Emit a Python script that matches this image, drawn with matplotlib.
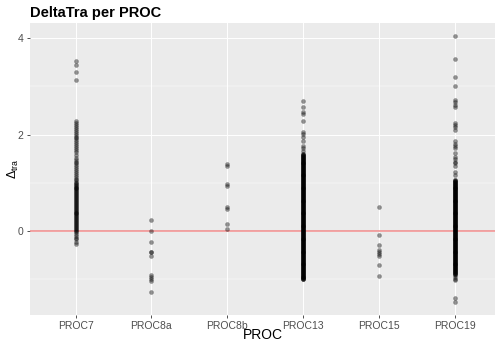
import matplotlib
matplotlib.use('Agg')
import matplotlib.pyplot as plt

plt.rcParams['font.family'] = ['Liberation Sans', 'DejaVu Sans']
plt.rcParams['mathtext.fontset'] = 'custom'
plt.rcParams['mathtext.rm'] = 'Liberation Sans'
plt.rcParams['mathtext.it'] = 'Liberation Sans'

# categories on the x axis
procs = ['PROC7', 'PROC8a', 'PROC8b', 'PROC13', 'PROC15', 'PROC19']

# delta_tra values per PROC
proc7 = [3.54, 3.45, 3.30, 3.14,
         2.28, 2.24, 2.20, 2.16, 2.12, 2.08, 2.04, 2.00, 1.96, 1.92, 1.88, 1.84,
         1.80, 1.76, 1.72, 1.68, 1.64, 1.58, 1.52, 1.48, 1.44, 1.40, 1.36, 1.32,
         1.28, 1.24, 1.20, 1.16, 1.12, 1.08, 1.05,
         1.02, 1.00, 0.98, 0.96, 0.94, 0.92, 0.90, 0.88, 0.86, 0.84, 0.82,
         0.80, 0.78, 0.76, 0.74, 0.72, 0.70, 0.68, 0.66, 0.64, 0.62,
         0.60, 0.58, 0.56, 0.54, 0.52, 0.50, 0.48, 0.46, 0.44, 0.42,
         0.40, 0.38, 0.36, 0.34, 0.32, 0.30, 0.28, 0.26, 0.24, 0.22,
         0.20, 0.18, 0.16, 0.14, 0.12, 0.10, 0.08, 0.06, 0.04, 0.02, 0.00,
         -0.02, -0.06, -0.10, -0.14, -0.18, -0.23, -0.27]
proc8a = [0.23, 0.00, -0.24, -0.43, -0.45, -0.53, -0.92, -0.97, -1.01, -1.05, -1.28]
proc8b = [1.38, 1.35, 0.97, 0.94, 0.49, 0.45, 0.15, 0.04]
proc13 = [2.69, 2.57, 2.48, 2.43, 2.29, 2.06, 2.01, 1.95, 1.86, 1.76, 1.72, 1.66,
          1.60, 1.59, 1.58, 1.57, 1.56, 1.55, 1.54, 1.53, 1.52, 1.51,
          1.50, 1.49, 1.48, 1.47, 1.46, 1.45, 1.44, 1.43, 1.42, 1.41,
          1.40, 1.39, 1.38, 1.37, 1.36, 1.35, 1.34, 1.33, 1.32, 1.31,
          1.30, 1.29, 1.28, 1.27, 1.26, 1.25, 1.24, 1.23, 1.22, 1.21,
          1.20, 1.19, 1.18, 1.17, 1.16, 1.15, 1.14, 1.13, 1.12, 1.11,
          1.10, 1.09, 1.08, 1.07, 1.06, 1.05, 1.04, 1.03, 1.02, 1.01,
          1.00, 0.99, 0.98, 0.97, 0.96, 0.95, 0.94, 0.93, 0.92, 0.91,
          0.90, 0.89, 0.88, 0.87, 0.86, 0.85, 0.84, 0.83, 0.82, 0.81,
          0.80, 0.79, 0.78, 0.77, 0.76, 0.75, 0.74, 0.73, 0.72, 0.71,
          0.70, 0.69, 0.68, 0.67, 0.66, 0.65, 0.64, 0.63, 0.62, 0.61,
          0.60, 0.59, 0.58, 0.57, 0.56, 0.55, 0.54, 0.53, 0.52, 0.51,
          0.50, 0.49, 0.48, 0.47, 0.46, 0.45, 0.44, 0.43, 0.42, 0.41,
          0.40, 0.39, 0.38, 0.37, 0.36, 0.35, 0.34, 0.33, 0.32, 0.31,
          0.30, 0.29, 0.28, 0.27, 0.26, 0.25, 0.24, 0.23, 0.22, 0.21,
          0.20, 0.19, 0.18, 0.17, 0.16, 0.15, 0.14, 0.13, 0.12, 0.11,
          0.10, 0.09, 0.08, 0.07, 0.06, 0.05, 0.04, 0.03, 0.02, 0.01,
          0.00, -0.01, -0.02, -0.03, -0.04, -0.05, -0.06, -0.07, -0.08, -0.09,
          -0.10, -0.11, -0.12, -0.13, -0.14, -0.15, -0.16, -0.17, -0.18, -0.19,
          -0.20, -0.21, -0.22, -0.23, -0.24, -0.25, -0.26, -0.27, -0.28, -0.29,
          -0.30, -0.31, -0.32, -0.33, -0.34, -0.35, -0.36, -0.37, -0.38, -0.39,
          -0.40, -0.41, -0.42, -0.43, -0.44, -0.45, -0.46, -0.47, -0.48, -0.49,
          -0.50, -0.51, -0.52, -0.53, -0.54, -0.55, -0.56, -0.57, -0.58, -0.59,
          -0.60, -0.61, -0.62, -0.63, -0.64, -0.65, -0.66, -0.67, -0.68, -0.69,
          -0.70, -0.71, -0.72, -0.73, -0.74, -0.75, -0.76, -0.77, -0.78, -0.79,
          -0.80, -0.81, -0.82, -0.83, -0.84, -0.85, -0.86, -0.87, -0.88, -0.89,
          -0.90, -0.91, -0.92, -0.93, -0.94, -0.95, -0.96, -0.97, -0.98, -0.99,
          -1.00, -1.00, -1.00]
proc15 = [0.49, -0.08, -0.29, -0.40, -0.45, -0.49, -0.53, -0.71, -0.94]
proc19 = [4.06, 3.57, 3.20, 3.00, 2.71, 2.67, 2.61, 2.57, 2.25, 2.20, 2.15, 2.10,
          1.86, 1.81, 1.76, 1.72, 1.62, 1.54, 1.49, 1.44, 1.40, 1.34, 1.22, 1.15,
          1.06, 1.05, 1.04, 1.03, 1.02, 1.01,
          1.00, 0.99, 0.98, 0.97, 0.96, 0.95, 0.94, 0.93, 0.92, 0.91,
          0.90, 0.89, 0.88, 0.87, 0.86, 0.85, 0.84, 0.83, 0.82, 0.81,
          0.80, 0.79, 0.78, 0.77, 0.76, 0.75, 0.74, 0.73, 0.72, 0.71,
          0.70, 0.69, 0.68, 0.67, 0.66, 0.65, 0.64, 0.63, 0.62, 0.61,
          0.60, 0.59, 0.58, 0.57, 0.56, 0.55, 0.54, 0.53, 0.52, 0.51,
          0.50, 0.49, 0.48, 0.47, 0.46, 0.45, 0.44, 0.43, 0.42, 0.41,
          0.40, 0.39, 0.38, 0.37, 0.36, 0.35, 0.34, 0.33, 0.32, 0.31,
          0.30, 0.29, 0.28, 0.27, 0.26, 0.25, 0.24, 0.23, 0.22, 0.21,
          0.20, 0.19, 0.18, 0.17, 0.16, 0.15, 0.14, 0.13, 0.12, 0.11,
          0.10, 0.09, 0.08, 0.07, 0.06, 0.05, 0.04, 0.03, 0.02, 0.01,
          0.00, -0.01, -0.02, -0.03, -0.04, -0.05, -0.06, -0.07, -0.08, -0.09,
          -0.10, -0.11, -0.12, -0.13, -0.14, -0.15, -0.16, -0.17, -0.18, -0.19,
          -0.20, -0.21, -0.22, -0.23, -0.24, -0.25, -0.26, -0.27, -0.28, -0.29,
          -0.30, -0.31, -0.32, -0.33, -0.34, -0.35, -0.36, -0.37, -0.38, -0.39,
          -0.40, -0.41, -0.42, -0.43, -0.44, -0.45, -0.46, -0.47, -0.48, -0.49,
          -0.50, -0.51, -0.52, -0.53, -0.54, -0.55, -0.56, -0.57, -0.58, -0.59,
          -0.60, -0.61, -0.62, -0.63, -0.64, -0.65, -0.66, -0.67, -0.68, -0.69,
          -0.70, -0.71, -0.72, -0.73, -0.74, -0.75, -0.76, -0.77, -0.78, -0.79,
          -0.80, -0.81, -0.82, -0.83, -0.84, -0.85, -0.86, -0.87, -0.88, -0.89,
          -0.90, -0.92, -0.96, -1.00, -1.02, -1.40, -1.47]

y_ticks = [0, 2, 4]
minor_ticks = [-1, 1, 3]

series = [proc7, proc8a, proc8b, proc13, proc15, proc19]

fig = plt.figure(figsize=(4.95, 3.43), dpi=100)
ax = fig.add_axes([30 / 495, 28 / 343, 465 / 495, 292 / 343])
ax.set_facecolor('#EBEBEB')

for i, vals in enumerate(series):
    ax.scatter([i] * len(vals), vals, s=11, color='black', alpha=0.42,
               linewidths=0, zorder=3)

ax.axhline(0, color='#F08A8A', lw=1.1, zorder=2)

ax.set_xlim(-0.6, 5.53)
ax.set_ylim(-1.75, 4.32)
ax.set_xticks(range(len(procs)))
ax.set_xticklabels(procs)
ax.set_yticks(y_ticks)
ax.set_yticks(minor_ticks, minor=True)
ax.grid(True, which='major', color='white', lw=0.7, zorder=0)
ax.grid(True, which='minor', axis='y', color='white', lw=0.35, zorder=0)
ax.set_axisbelow(True)
for sp in ax.spines.values():
    sp.set_visible(False)
ax.tick_params(which='major', length=2.5, width=0.6, color='#333333',
               labelsize=7.5, labelcolor='#4D4D4D', pad=2)
ax.tick_params(which='minor', length=0)

ax.set_xlabel('PROC', fontsize=10)
ax.xaxis.set_label_coords(0.5, -(335 - 315) / 292)
ax.xaxis.label.set_va('center')
ax.set_ylabel(r'$\Delta_{\mathrm{tra}}$', fontsize=9)
ax.yaxis.set_label_coords(-(30 - 13) / 465, 0.5)
ax.yaxis.label.set_va('center')
fig.text(30 / 495, 1 - 13 / 343, 'DeltaTra per PROC', fontsize=10.5,
         fontweight='bold', va='center', ha='left')

fig.savefig('out.png', dpi=100)
